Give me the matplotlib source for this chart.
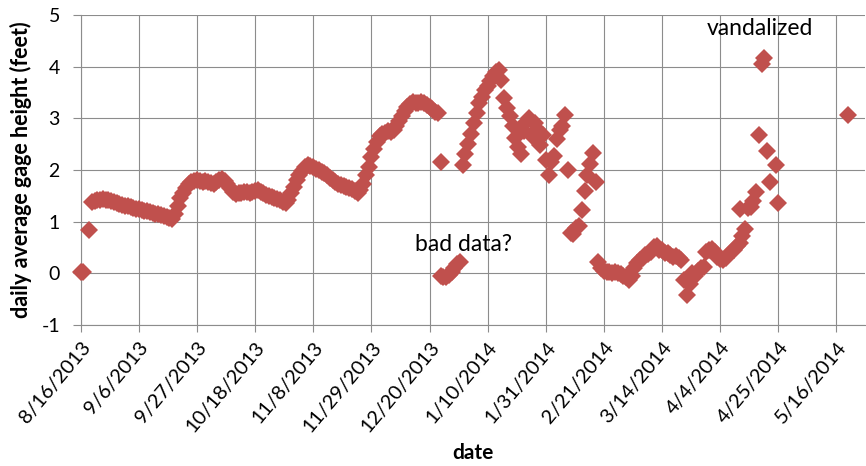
import pandas as pd
import matplotlib.pyplot as plt

# daily average gage height (feet), one value per day
start_a = "2013-08-16"
gage_a = [0.03, 0.03]

start_b = "2013-08-19"
gage_b = [0.83]

start_c = "2013-08-20"
gage_c = [1.38, 1.40, 1.42, 1.42, 1.43, 1.42, 1.41, 1.40, 1.38, 1.36,
          1.35, 1.33, 1.31, 1.30, 1.28, 1.27, 1.25, 1.24, 1.22, 1.21,
          1.20, 1.18, 1.17, 1.15, 1.14, 1.12, 1.10, 1.09, 1.07, 1.05,
          1.15, 1.30, 1.45, 1.55, 1.65, 1.72, 1.76,
          1.78, 1.80, 1.79, 1.77, 1.78, 1.76, 1.74, 1.72, 1.76, 1.80, 1.82, 1.78,
          1.72, 1.65, 1.58, 1.54,
          1.55, 1.56, 1.58, 1.57, 1.56, 1.58, 1.60, 1.62, 1.58, 1.55,
          1.52, 1.50, 1.48, 1.46, 1.44, 1.42, 1.39, 1.37, 1.42,
          1.55, 1.68, 1.80, 1.90, 1.98, 2.05, 2.10, 2.08,
          2.05, 2.02, 2.00, 1.97, 1.94, 1.90, 1.85, 1.80, 1.76, 1.73,
          1.71, 1.69, 1.68, 1.66, 1.64, 1.60, 1.56, 1.62,
          1.72, 1.90, 2.05, 2.25, 2.40, 2.55, 2.65, 2.70,
          2.72, 2.75, 2.74, 2.78, 2.85,
          2.95, 3.05, 3.15, 3.22, 3.28, 3.32,
          3.30, 3.30, 3.31, 3.30, 3.26, 3.22, 3.18, 3.13, 3.10,
          2.15]

start_bad = "2013-12-24"
gage_bad = [-0.05, -0.07, -0.08, -0.04, 0.02, 0.10, 0.18, 0.22]

start_d = "2014-01-01"
gage_d = [2.09, 2.30, 2.50, 2.70, 2.90, 3.10, 3.30, 3.42, 3.55, 3.62,
          3.72, 3.82, 3.90, 3.93, 3.75, 3.40, 3.20, 3.05, 2.85, 2.62,
          2.45, 2.30, 2.75, 2.92, 3.00, 2.65, 2.90, 2.80, 2.48, 2.68,
          2.20, 1.90, 2.15, 2.28, 2.60, 2.78, 2.85, 3.07, 2.00]

start_e = "2014-02-09"
gage_e = [0.78, 0.76, 0.88, 0.92, 1.22, 1.60, 1.90, 2.12, 2.32, 1.76,
          0.22, 0.10, 0.05, 0.02, 0.02, 0.00, 0.03, 0.00, -0.02, -0.05,
          -0.08, -0.12, -0.05, 0.10, 0.20, 0.25, 0.30, 0.35, 0.38, 0.42,
          0.50, 0.52, 0.45, 0.45, 0.40, 0.40, 0.35, 0.32, 0.33, 0.30,
          0.25, -0.12, -0.42, -0.20, 0.00, -0.05, 0.05, 0.10, 0.12, 0.41,
          0.45, 0.48, 0.42, 0.31, 0.28, 0.25, 0.30, 0.35, 0.41, 0.45,
          0.52, 0.58, 0.72, 0.85, 1.27, 1.28, 1.40, 1.57, 2.68, 4.06,
          4.16, 2.36, 1.76]

# odd days that do not fit the daily runs
extra_dates = ["2014-04-11", "2014-04-24", "2014-04-25", "2014-05-20"]
extra_gage = [1.25, 2.09, 1.37, 3.06]

tick_labels = ["8/16/2013", "9/6/2013", "9/27/2013", "10/18/2013", "11/8/2013",
               "11/29/2013", "12/20/2013", "1/10/2014", "1/31/2014", "2/21/2014",
               "3/14/2014", "4/4/2014", "4/25/2014", "5/16/2014"]

red = "#C0504D"
grid_col = "#8C8C8C"
plt.rcParams["font.family"] = ["Lato", "DejaVu Sans"]
plt.rcParams["axes.unicode_minus"] = False

fig = plt.figure(figsize=(8.66, 4.66), dpi=100)
ax = fig.add_axes([0.0932, 0.3026, 0.9057, 0.6652])

segments = [(start_a, gage_a), (start_b, gage_b), (start_c, gage_c),
            (start_bad, gage_bad), (start_d, gage_d), (start_e, gage_e)]
for start, vals in segments:
    dates = pd.date_range(start, periods=len(vals), freq="D")
    ax.plot(dates, vals, linestyle="none", marker="D", markersize=9.5,
            color=red, markeredgewidth=0, clip_on=False, zorder=3)
ax.plot(pd.to_datetime(extra_dates), extra_gage, linestyle="none", marker="D",
        markersize=9.5, color=red, markeredgewidth=0, clip_on=False, zorder=3)

ax.set_ylim(-1, 5)
ax.set_yticks(range(-1, 6))
ax.set_xlim(pd.Timestamp("2013-08-16"), pd.Timestamp("2014-05-26 08:00"))
ax.set_xticks(pd.to_datetime(tick_labels, format="%m/%d/%Y"))
ax.set_xticklabels(tick_labels, rotation=50, ha="right", rotation_mode="anchor",
                   fontsize=14.5)

ax.grid(True, color=grid_col, linewidth=0.8)
ax.set_axisbelow(True)
for s in ["top", "right"]:
    ax.spines[s].set_visible(False)
for s in ["left", "bottom"]:
    ax.spines[s].set_color(grid_col)
    ax.spines[s].set_linewidth(0.8)
ax.tick_params(axis="both", colors=grid_col, labelcolor="black", width=0.8)
ax.tick_params(axis="y", length=6, pad=9, labelsize=14)
ax.tick_params(axis="x", length=5, pad=5)

ax.set_ylabel("daily average gage height (feet)", fontsize=15.5, fontweight="bold",
              labelpad=7)
ax.set_xlabel("date", fontsize=15, fontweight="bold", labelpad=5)

ax.text(pd.Timestamp("2013-12-14 14:00"), 0.56, "bad data?", fontsize=16.5,
        ha="left", va="center")
ax.text(pd.Timestamp("2014-03-30"), 4.74, "vandalized", fontsize=16.5,
        ha="left", va="center")

plt.savefig("out.png", dpi=100)
